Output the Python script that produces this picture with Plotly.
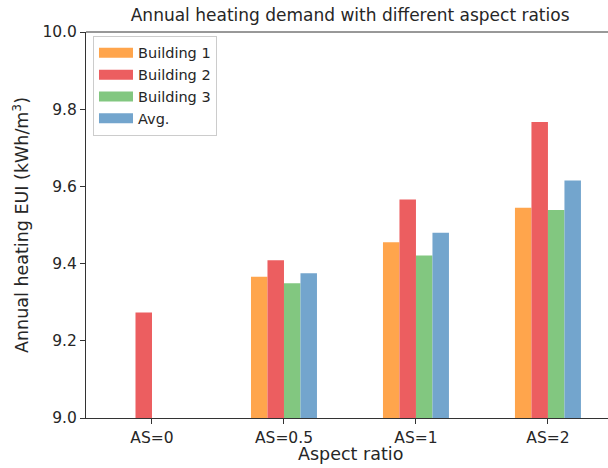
import plotly.graph_objects as go

categories = ["AS=0", "AS=0.5", "AS=1", "AS=2"]
building1 = [None, 9.366, 9.455, 9.545]
building2 = [9.273, 9.409, 9.566, 9.767]
building3 = [None, 9.349, 9.421, 9.539]
average = [None, 9.375, 9.480, 9.615]

series_names = ["Building 1", "Building 2", "Building 3", "Avg."]
series_values = [building1, building2, building3, average]
colors = ["#FFA54C", "#EC5E60", "#82C780", "#73A5CD"]

y_ticks = [9.0, 9.2, 9.4, 9.6, 9.8, 10.0]
y_tick_labels = ["9.0", "9.2", "9.4", "9.6", "9.8", "10.0"]

x_pos = list(range(len(categories)))

fig = go.Figure()
for name, vals, col in zip(series_names, series_values, colors):
    fig.add_trace(go.Bar(
        name=name, x=x_pos, y=vals, showlegend=False, legendgroup=name,
        marker=dict(color=col, line=dict(width=0)),
    ))
# legend entries drawn as wide flat patches (matplotlib style)
for name, col in zip(series_names, colors):
    fig.add_trace(go.Scatter(
        name=name, x=[None], y=[None], mode="lines", legendgroup=name,
        line=dict(color=col, width=10), showlegend=True, hoverinfo="skip",
    ))

font_family = "DejaVu Sans"
txt = "#262626"
axis_col = "#333333"

fig.update_layout(
    width=608, height=468,
    margin=dict(l=86, r=0, t=32, b=50, autoexpand=False),
    paper_bgcolor="white", plot_bgcolor="white",
    barmode="group", bargap=0.5, bargroupgap=0,
    font=dict(family=font_family, color=txt, size=15),
    title=dict(
        text="Annual heating demand with different aspect ratios",
        font=dict(size=17, family=font_family, color=txt),
        x=0.506, xref="paper", xanchor="center",
        y=1 - 15 / 468, yref="container", yanchor="middle",
    ),
    legend=dict(
        x=0.0134, y=0.99, xanchor="left", yanchor="top",
        bgcolor="rgba(255,255,255,0.8)", bordercolor="#cccccc", borderwidth=1,
        font=dict(size=14.5, family=font_family, color=txt),
        tracegroupgap=0, itemwidth=34,
    ),
    showlegend=True,
)

fig.update_xaxes(
    range=[-0.5, 3.455], automargin=False,
    tickmode="array", tickvals=x_pos, ticktext=categories,
    ticks="outside", ticklen=5, tickwidth=1, tickcolor=axis_col,
    showline=True, linecolor=axis_col, linewidth=1, mirror=False,
    showgrid=False, zeroline=False,
    tickfont=dict(size=15.5, family=font_family, color=txt),
)
fig.update_yaxes(
    range=[9.0, 10.0], automargin=False,
    tickmode="array", tickvals=y_ticks, ticktext=y_tick_labels,
    ticks="outside", ticklen=5, tickwidth=1, tickcolor=axis_col,
    showline=True, linecolor=axis_col, linewidth=1,
    showgrid=False, zeroline=False,
    tickfont=dict(size=15.5, family=font_family, color=txt),
)

fig.add_annotation(
    text="Aspect ratio", xref="paper", yref="paper",
    x=(350 - 86) / 522, y=-(454 - 418) / 386, xanchor="center", yanchor="middle",
    showarrow=False, font=dict(size=17.5, family=font_family, color=txt),
)
fig.add_annotation(
    text="Annual heating EUI (kWh/m<sup>3</sup>)", xref="paper", yref="paper",
    x=-(86 - 21) / 522, y=(418 - 225) / 386, xanchor="center", yanchor="middle",
    textangle=-90, showarrow=False, font=dict(size=17.5, family=font_family, color=txt),
)

# top spine
fig.add_shape(type="line", xref="paper", yref="paper", x0=0, x1=1, y0=1, y1=1,
              line=dict(color=axis_col, width=1))

fig.write_html(
    "out.html",
    config={"displayModeBar": False},
    post_script="document.body.style.margin='0';document.body.style.overflow='hidden';",
)
